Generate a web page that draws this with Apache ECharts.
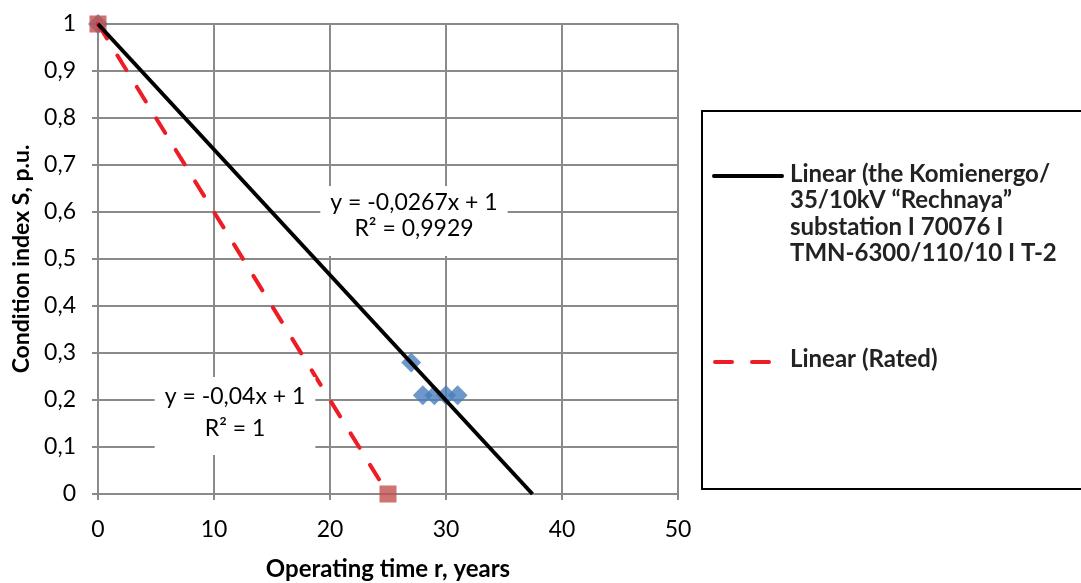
<!DOCTYPE html>
<html>
<head>
<meta charset="utf-8">
<script src="https://cdn.jsdelivr.net/npm/echarts@6/dist/echarts.min.js"></script>
<style>
  html, body { margin: 0; padding: 0; background: #fff; }
  #chart { width: 1081px; height: 583px; }
</style>
</head>
<body>
<div id="chart"></div>
<script>
// measured points (Komienergo transformer)
var measuredX = [0, 27, 28, 29, 30, 31];
var measuredY = [1, 0.28, 0.21, 0.21, 0.21, 0.21];
// rated points
var ratedX = [0, 25];
var ratedY = [1, 0];
// trendlines y = k*x + b
var trendMeasured = { k: -0.0267, b: 1, r2: '0,9929' };
var trendRated = { k: -0.04, b: 1, r2: '1' };

var xTicks = { min: 0, max: 50, step: 10 };
var yTicks = { min: 0, max: 1, step: 0.1 };

var FONT = 'Lato, "Open Sans", sans-serif';
var GRID_C = '#8a8a8a';

function pairs(xs, ys) {
    var out = [];
    for (var i = 0; i < xs.length; i++) out.push([xs[i], ys[i]]);
    return out;
}
// line from x=0 to where it reaches y=0
function trendPoints(t) {
    var xEnd = -t.b / t.k;
    return [[0, t.b], [xEnd, 0]];
}
function eqText(t) {
    var k = String(t.k).replace('.', ',');
    return 'y = ' + k + 'x + ' + t.b + '\nR² = ' + t.r2;
}

var chart = echarts.init(document.getElementById('chart'));
var option = {
    animation: false,
    textStyle: { fontFamily: FONT },
    grid: { left: 98, right: 403, top: 24, bottom: 89, outerBoundsMode: 'none' },
    xAxis: {
        type: 'value', min: xTicks.min, max: xTicks.max, interval: xTicks.step,
        name: 'Operating time r, years', nameLocation: 'middle', nameGap: 63,
        nameTextStyle: { fontFamily: FONT, fontSize: 24, fontWeight: 'bold', color: '#000' },
        axisLine: { lineStyle: { color: GRID_C, width: 2 } },
        axisTick: { show: true, length: 6, lineStyle: { color: GRID_C, width: 2 } },
        axisLabel: { fontFamily: FONT, fontSize: 23, color: '#000', margin: 24 },
        splitLine: { lineStyle: { color: GRID_C, width: 2 } }
    },
    yAxis: {
        type: 'value', min: yTicks.min, max: yTicks.max, interval: yTicks.step,
        name: 'Condition index S, p.u.', nameLocation: 'middle', nameGap: 64,
        nameTextStyle: { fontFamily: FONT, fontSize: 23, fontWeight: 'bold', color: '#000' },
        axisLine: { show: true, lineStyle: { color: GRID_C, width: 2 } },
        axisTick: { show: true, length: 6, lineStyle: { color: GRID_C, width: 2 } },
        axisLabel: {
            fontFamily: FONT, fontSize: 23, color: '#000', margin: 22,
            formatter: function (v) { return String(Math.round(v * 10) / 10).replace('.', ','); }
        },
        splitLine: { lineStyle: { color: GRID_C, width: 2 } }
    },
    series: [
        {
            name: 'Komienergo', type: 'scatter', z: 2,
            symbol: 'diamond', symbolSize: [20, 20],
            itemStyle: { color: '#4a7ebb' },
            data: pairs(measuredX, measuredY)
        },
        {
            name: 'Rated', type: 'scatter', z: 3,
            symbol: 'rect', symbolSize: [17, 17],
            itemStyle: { color: '#c0504d' },
            data: pairs(ratedX, ratedY)
        },
        {
            name: 'Linear (Rated)', type: 'line', z: 4, symbol: 'none',
            lineStyle: { color: '#ee1c25', width: 4, type: [17, 20], cap: 'round' },
            data: trendPoints(trendRated)
        },
        {
            name: 'Linear (Komienergo)', type: 'line', z: 5, symbol: 'none',
            lineStyle: { color: '#000', width: 4 },
            data: trendPoints(trendMeasured)
        }
    ],
    graphic: [
        {
            type: 'text', x: 414, y: 186, z: 10,
            style: {
                text: eqText(trendMeasured), fontFamily: FONT, fontSize: 23,
                fill: '#000', align: 'center', verticalAlign: 'top', lineHeight: 26,
                backgroundColor: '#fff', padding: [4, 10, 14, 10]
            }
        },
        {
            type: 'text', x: 235, y: 377, z: 10,
            style: {
                text: eqText(trendRated), fontFamily: FONT, fontSize: 23,
                fill: '#000', align: 'center', verticalAlign: 'top', lineHeight: 32,
                backgroundColor: '#fff', padding: [4, 10, 10, 10]
            }
        },
        // legend box
        {
            type: 'rect', z: 10,
            shape: { x: 702, y: 111, width: 390, height: 378 },
            style: { fill: '#fff', stroke: '#000', lineWidth: 2 }
        },
        {
            type: 'line', z: 11,
            shape: { x1: 714, y1: 176, x2: 782, y2: 176 },
            style: { stroke: '#000', lineWidth: 4, lineCap: 'round' }
        },
        {
            type: 'text', x: 790, y: 161, z: 11,
            style: {
                text: 'Linear (the Komienergo/\n35/10kV “Rechnaya”\nsubstation I 70076 I\nTMN-6300/110/10 I T-2',
                fontFamily: FONT, fontSize: 24, fontWeight: 'bold', fill: '#222', lineHeight: 26.5
            }
        },
        {
            type: 'line', z: 11,
            shape: { x1: 715, y1: 362, x2: 771, y2: 362 },
            style: { stroke: '#ee1c25', lineWidth: 4, lineDash: [17, 20], lineCap: 'round' }
        },
        {
            type: 'text', x: 790, y: 347, z: 11,
            style: {
                text: 'Linear (Rated)', fontFamily: FONT, fontSize: 24, fontWeight: 'bold', fill: '#222'
            }
        }
    ]
};
chart.setOption(option);
</script>
</body>
</html>
